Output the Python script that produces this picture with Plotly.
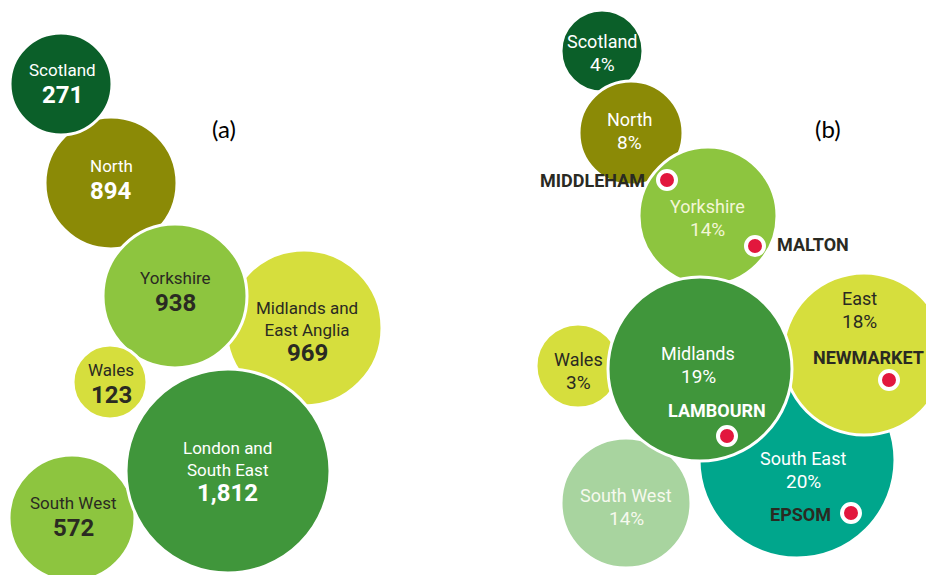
import plotly.graph_objects as go

# (a) horses in training by region
regions_a = ["North", "Scotland", "Midlands and<br>East Anglia", "Yorkshire",
             "South West", "Wales", "London and<br>South East"]
horses_a = [894, 271, 969, 938, 572, 123, 1812]

# (b) share of horses by region, with the main training centres
regions_b = ["Scotland", "North", "Yorkshire", "South East", "East",
             "South West", "Wales", "Midlands"]
share_b = [4, 8, 14, 20, 18, 14, 3, 19]
centres = ["MIDDLEHAM", "MALTON", "NEWMARKET", "LAMBOURN", "EPSOM"]

# bubble placement in page pixels (drawn in list order, last on top)
cx_a = [111, 61, 304, 175, 72, 110, 228]
cy_a = [183, 84, 328, 296, 518, 382, 471]
r_a = [66, 51, 78, 72, 63, 37, 102]
tx_a = [111, 62, 307, 175, 73, 111, 227]
ty_a = [166, 70, 308, 278, 503, 370, 448]

cx_b = [602, 631, 708, 797, 864, 626, 578, 700]
cy_b = [51, 133, 216, 460, 354, 503, 366, 369]
r_b = [41, 52, 69, 98, 81, 65, 42, 92]
tx_b = [602, 629, 707, 803, 859, 626, 578, 698]
ty_b = [41, 119, 206, 458, 298, 495, 359, 353]

dot_x = [667, 755, 889, 727, 851]
dot_y = [180, 246, 380, 436, 513]
lab_x = [592, 813, 868, 717, 800]
lab_y = [180, 244, 357, 410, 514]

DKGREEN = "#0b5f29"
OLIVE = "#8b8a06"
LIME = "#8dc53f"
YELLOW = "#d6de3d"
MID = "#40963b"
TEAL = "#00a68c"
PALE = "#a8d49f"
INK = "#2a2a22"

col_a = [OLIVE, DKGREEN, YELLOW, LIME, LIME, YELLOW, MID]
txt_a = ["white", "white", INK, INK, INK, INK, "white"]
col_b = [DKGREEN, OLIVE, LIME, TEAL, YELLOW, PALE, YELLOW, MID]
txt_b = ["white", "white", "#f3f6d6", "white", INK, "#f6f9ee", INK, "white"]
lab_col = [INK, INK, INK, "white", INK]

FONT = "Roboto, Liberation Sans, sans-serif"

fig = go.Figure()
fig.add_trace(go.Scatter(
    x=cx_a, y=cy_a, mode="markers", hoverinfo="skip",
    marker=dict(size=[2 * r for r in r_a], color=col_a, opacity=1,
                line=dict(color="white", width=3)),
))
fig.add_trace(go.Scatter(
    x=cx_b, y=cy_b, mode="markers", hoverinfo="skip",
    marker=dict(size=[2 * r for r in r_b], color=col_b, opacity=1,
                line=dict(color="white", width=3)),
))
fig.add_trace(go.Scatter(
    x=dot_x, y=dot_y, mode="markers", hoverinfo="skip",
    marker=dict(size=18, color="#e2173d", line=dict(color="white", width=4)),
))

ann = []
for name, v, x, y, c in zip(regions_a, horses_a, tx_a, ty_a, txt_a):
    n = name.count("<br>") + 1
    ann.append(dict(x=x, y=y + 11 * (n - 1), text=name, showarrow=False,
                    font=dict(family=FONT, size=17, color=c)))
    ann.append(dict(x=x, y=y + 20 * (n - 1) + 25, text=f"{v:,}",
                    showarrow=False,
                    font=dict(family=FONT, size=24, color=c, weight="bold")))

for name, v, x, y, c in zip(regions_b, share_b, tx_b, ty_b, txt_b):
    ann.append(dict(x=x, y=y, text=name, showarrow=False,
                    font=dict(family=FONT, size=18, color=c)))
    ann.append(dict(x=x, y=y + 23, text=f"{v}%", showarrow=False,
                    font=dict(family=FONT, size=19, color=c)))

for name, x, y, c in zip(centres, lab_x, lab_y, lab_col):
    ann.append(dict(x=x, y=y, text=name, showarrow=False,
                    font=dict(family=FONT, size=18, color=c, weight="bold")))

ann.append(dict(x=224, y=128, text="(a)", showarrow=False,
                font=dict(family="Lato, Open Sans, sans-serif", size=24, color="black")))
ann.append(dict(x=828, y=128, text="(b)", showarrow=False,
                font=dict(family="Lato, Open Sans, sans-serif", size=24, color="black")))

fig.update_layout(
    width=926, height=575, autosize=False,
    margin=dict(l=0, r=0, t=0, b=0),
    paper_bgcolor="white", plot_bgcolor="white",
    showlegend=False, annotations=ann,
)
fig.update_xaxes(range=[0, 926], visible=False, fixedrange=True)
fig.update_yaxes(range=[575, 0], visible=False, fixedrange=True)

# drop the default page margin so the figure sits at the window corner
fig.write_html("out.html", config={"displayModeBar": False},
               post_script="document.body.style.margin='0';")
